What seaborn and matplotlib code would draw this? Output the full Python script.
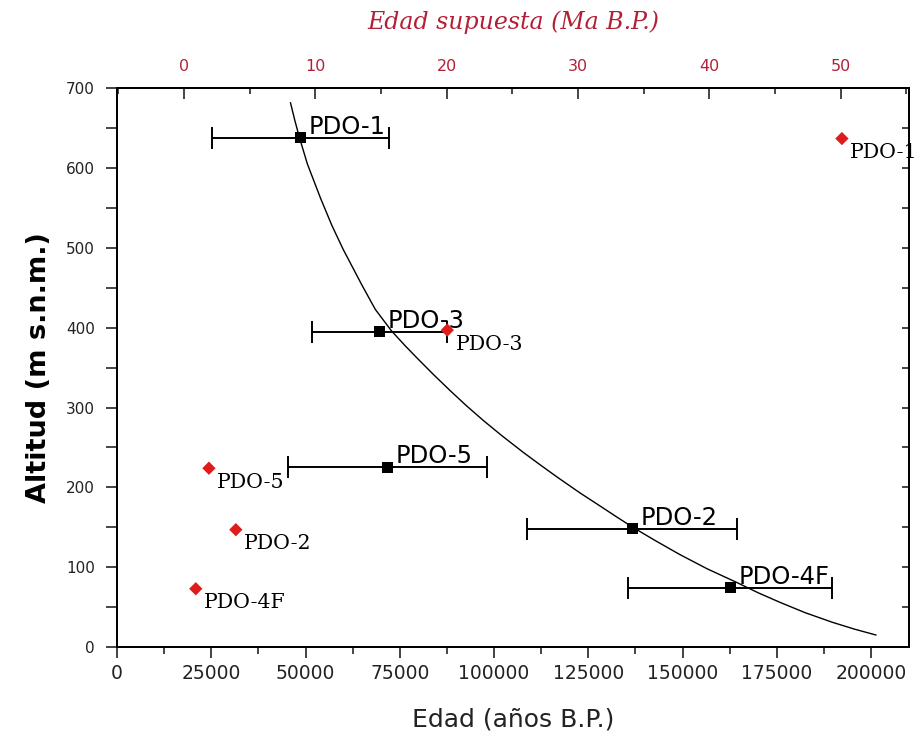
import numpy as np
import pandas as pd
import matplotlib
matplotlib.use("Agg")
import matplotlib.pyplot as plt
from matplotlib.ticker import MultipleLocator
import seaborn as sns

# ── Data ──────────────────────────────────────────────────────────
muestras = ["PDO-1", "PDO-3", "PDO-5", "PDO-2", "PDO-4F"]

# dated ages (bottom axis, years B.P.) with their x-error
edad = [48700, 69600, 71800, 136600, 162600]
edad_err = [23400, 18000, 26400, 27900, 27000]
altitud = [638, 395, 225, 148, 74]

# supposed ages (top axis, Ma B.P.)
edad_sup = [50.1, 20.05, 1.9, 3.95, 0.9]
altitud_sup = [637, 397, 224, 147, 73]

# fitted curve
curva_edad = [46000, 47200, 48400, 50500, 54000, 57000, 60000, 65000, 68500,
              72800, 76500, 80000, 84000, 88400, 92500, 97100, 102000, 107700,
              112000, 116700, 122800, 128000, 132500, 136800, 142500, 149200,
              156500, 164300, 170000, 175800, 182500, 189700, 195500, 201300]
curva_alt = [682, 659, 638, 605, 562, 528, 498, 453, 423,
             396, 377, 360, 341, 321, 303, 284, 265, 244,
             229, 213, 193, 177, 163, 150, 134, 116,
             98, 81, 68, 56, 43, 31, 22.5, 15]

df = pd.DataFrame({"muestra": muestras, "edad": edad, "err": edad_err, "altitud": altitud})
df_sup = pd.DataFrame({"muestra": muestras, "edad_sup": edad_sup, "altitud": altitud_sup})
df_curva = pd.DataFrame({"edad": curva_edad, "altitud": curva_alt})

sns.set_style("white")
plt.rcParams["font.family"] = ["DejaVu Sans"]

rojo = "#e01b1b"
carmin = "#b22038"

fig = plt.figure(figsize=(9.19, 7.35), dpi=100)
ax = fig.add_axes([0.1273, 0.1197, 0.8617, 0.7602])

# ── Bottom axis: dated samples ────────────────────────────────────
sns.lineplot(data=df_curva, x="edad", y="altitud", sort=False, color="black",
             lw=1.0, ax=ax)
ax.errorbar(df["edad"], df["altitud"], xerr=df["err"], fmt="none",
            ecolor="black", elinewidth=1.4, capsize=8, capthick=1.4, zorder=3)
sns.scatterplot(data=df, x="edad", y="altitud", marker="s", color="black",
                s=62, edgecolor="none", ax=ax, zorder=4)
for _, r in df.iterrows():
    ax.annotate(r["muestra"], (r["edad"], r["altitud"]), xytext=(6, 3),
                textcoords="offset points", fontsize=17.5, va="baseline",
                ha="left", color="black")

ax.set_xlim(0, 210000)
ax.set_ylim(0, 700)
ax.xaxis.set_major_locator(MultipleLocator(25000))
ax.xaxis.set_minor_locator(MultipleLocator(12500))
ax.yaxis.set_major_locator(MultipleLocator(100))
ax.yaxis.set_minor_locator(MultipleLocator(50))
ax.tick_params(axis="x", which="major", direction="out", length=8, width=1.2,
               labelsize=13.5, pad=4, colors="#222222", bottom=True)
ax.tick_params(axis="x", which="minor", direction="out", length=5, width=1.2,
               bottom=True)
ax.tick_params(axis="y", which="major", direction="out", length=8, width=1.2,
               labelsize=11, pad=8, colors="#222222", left=True)
ax.tick_params(axis="y", which="minor", direction="out", length=8, width=1.2,
               left=True)
ax.set_xlabel("Edad (años B.P.)", fontsize=18, labelpad=18, color="#222222")
ax.set_ylabel("Altitud (m s.n.m.)", fontsize=19.5, fontweight="bold",
              labelpad=10, color="black")

# ── Top axis: supposed ages ───────────────────────────────────────
ax2 = ax.twiny()
sns.scatterplot(data=df_sup, x="edad_sup", y="altitud", marker="D", color=rojo,
                s=46, edgecolor="none", ax=ax2, zorder=5)
for _, r in df_sup.iterrows():
    ax2.annotate(r["muestra"], (r["edad_sup"], r["altitud"]), xytext=(6, -14),
                 textcoords="offset points", fontsize=14.8, va="baseline",
                 ha="left", color="black", family="DejaVu Serif",
                 annotation_clip=False)
ax2.set_xlim(-5.1, 55.2)
ax2.xaxis.set_major_locator(MultipleLocator(10))
ax2.xaxis.set_minor_locator(MultipleLocator(5))
ax2.tick_params(axis="x", which="major", direction="in", length=8, width=1.2,
                labelsize=11.5, pad=10, labelcolor=carmin, top=True)
ax2.tick_params(axis="x", which="minor", direction="in", length=4, width=1.2,
                top=True)
ax2.set_xlabel("Edad supuesta (Ma B.P.)", fontsize=17, style="italic",
               family="DejaVu Serif", color=carmin, labelpad=22)

# right-hand ticks pointing inward
ax2.yaxis.set_visible(True)
ax2.yaxis.tick_right()
ax2.tick_params(axis="y", which="both", direction="in", length=5, width=1.2,
                right=True, left=False, labelright=False, labelleft=False)
ax2.set_ylabel("")

for a in (ax, ax2):
    for sp in a.spines.values():
        sp.set_color("black")
        sp.set_linewidth(1.4)

fig.savefig("out.png", dpi=100)
